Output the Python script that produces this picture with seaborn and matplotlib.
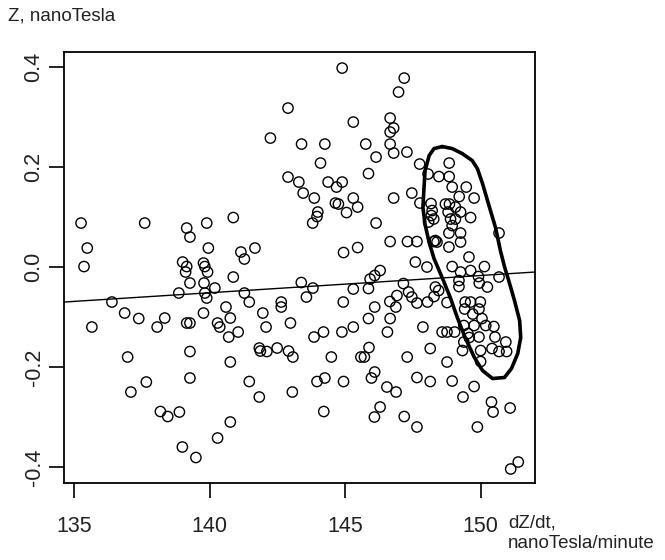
import numpy as np
import pandas as pd
import matplotlib
matplotlib.use("Agg")
import matplotlib.pyplot as plt
import seaborn as sns

# ---- data ----
dzdt = [
    135.25, 137.60, 139.15, 139.27, 139.89, 135.48, 139.95, 135.36, 139.00, 139.15,
    139.11, 139.27, 139.77, 139.82, 139.92, 139.79, 140.19, 138.86, 139.82, 139.89,
    136.39, 136.86, 137.38, 138.06, 138.34, 139.15, 139.27, 139.77, 140.29, 135.65,
    139.27, 136.97, 139.27, 137.66, 137.09, 138.18, 138.45, 138.88, 138.99, 139.49,
    140.29, 140.37, 144.89, 142.89, 145.30, 142.24, 143.39, 144.25, 145.76, 144.09,
    142.89, 143.29, 143.45, 143.86, 144.37, 144.68, 144.89, 145.30, 145.46, 144.64,
    144.75, 145.05, 143.99, 143.96, 143.80, 140.87, 141.15, 141.28, 141.67, 144.94,
    145.46, 140.87, 141.28, 141.46, 143.38, 143.81, 143.57, 145.30, 142.64, 142.64,
    140.60, 140.76, 141.96, 142.08, 142.98, 144.93, 140.70, 141.05, 141.83, 141.87,
    142.11, 142.49, 142.91, 143.07, 143.85, 144.20, 144.88, 145.30, 144.49, 145.58,
    140.76, 141.46, 141.83, 143.05, 143.96, 144.25, 144.94, 144.21, 140.76, 147.18,
    146.97, 146.66, 146.79, 146.66, 146.66, 146.79, 147.28, 146.14, 145.86, 147.75,
    148.06, 148.46, 148.84, 148.84, 147.46, 146.79, 147.76, 148.17, 148.18, 148.08,
    148.95, 149.47, 149.21, 149.76, 148.85, 149.07, 148.80, 149.07, 149.63, 146.14,
    148.83, 149.26, 150.68, 146.66, 147.30, 147.65, 148.27, 148.39, 148.83, 149.26,
    147.59, 148.02, 148.95, 149.57, 150.14, 146.29, 148.70, 148.21, 149.26, 148.27,
    148.89, 148.95, 148.33, 149.26, 149.63, 149.92, 149.95, 149.20, 149.20, 150.25,
    150.68, 148.33, 147.15, 147.34, 147.46, 147.65, 148.04, 148.28, 148.45, 148.76,
    149.43, 149.63, 149.99, 149.41, 149.94, 149.71, 150.05, 149.38, 149.76, 150.19,
    150.49, 147.87, 148.58, 148.76, 149.04, 149.53, 149.58, 149.94, 150.53, 149.38,
    150.93, 150.42, 150.68, 150.96, 150.00, 149.33, 148.14, 147.29, 148.76, 150.00,
    147.65, 148.14, 148.95, 149.76, 149.35, 150.40, 150.46, 151.09, 146.29, 146.08,
    147.18, 147.65, 149.88, 151.11, 151.39, 146.09, 145.92, 145.86, 146.91, 146.65,
    146.87, 146.09, 145.86, 146.66, 146.56, 145.88, 145.71, 146.09, 145.97, 146.54,
    146.88,
]
z = [
    0.088, 0.088, 0.078, 0.060, 0.088, 0.038, 0.038, 0.001, 0.010, 0.001,
    -0.010, -0.032, 0.008, 0.001, -0.010, -0.032, -0.042, -0.052, -0.052, -0.062,
    -0.070, -0.092, -0.103, -0.120, -0.102, -0.112, -0.112, -0.092, -0.112, -0.120,
    -0.169, -0.180, -0.222, -0.230, -0.250, -0.289, -0.299, -0.290, -0.360, -0.381,
    -0.342, -0.120, 0.398, 0.318, 0.290, 0.258, 0.246, 0.246, 0.246, 0.208,
    0.180, 0.170, 0.148, 0.138, 0.170, 0.160, 0.170, 0.138, 0.120, 0.128,
    0.126, 0.109, 0.110, 0.101, 0.088, 0.099, 0.030, 0.016, 0.038, 0.029,
    0.039, -0.020, -0.052, -0.070, -0.031, -0.042, -0.060, -0.044, -0.070, -0.080,
    -0.080, -0.102, -0.092, -0.120, -0.112, -0.070, -0.140, -0.130, -0.162, -0.168,
    -0.169, -0.162, -0.168, -0.180, -0.140, -0.130, -0.130, -0.120, -0.180, -0.180,
    -0.190, -0.229, -0.260, -0.250, -0.229, -0.222, -0.229, -0.289, -0.310, 0.378,
    0.350, 0.298, 0.278, 0.270, 0.246, 0.228, 0.230, 0.220, 0.187, 0.206,
    0.186, 0.181, 0.208, 0.181, 0.148, 0.138, 0.128, 0.127, 0.103, 0.090,
    0.160, 0.160, 0.141, 0.138, 0.126, 0.120, 0.110, 0.096, 0.099, 0.088,
    0.068, 0.068, 0.068, 0.051, 0.051, 0.051, 0.051, 0.050, 0.040, 0.050,
    0.010, 0.000, 0.001, 0.020, 0.001, -0.007, 0.126, 0.113, 0.110, 0.096,
    0.096, 0.083, 0.053, -0.010, -0.007, -0.019, -0.032, -0.027, -0.039, -0.040,
    -0.020, -0.040, -0.033, -0.050, -0.060, -0.072, -0.070, -0.059, -0.047, -0.071,
    -0.070, -0.070, -0.070, -0.084, -0.084, -0.094, -0.103, -0.117, -0.117, -0.117,
    -0.119, -0.120, -0.130, -0.130, -0.130, -0.133, -0.141, -0.140, -0.140, -0.150,
    -0.150, -0.163, -0.169, -0.169, -0.167, -0.167, -0.163, -0.180, -0.190, -0.189,
    -0.221, -0.229, -0.228, -0.239, -0.260, -0.270, -0.290, -0.282, -0.280, -0.300,
    -0.299, -0.320, -0.320, -0.404, -0.390, -0.017, -0.024, -0.043, -0.057, -0.069,
    -0.080, -0.080, -0.103, -0.103, -0.130, -0.161, -0.180, -0.210, -0.222, -0.240,
    -0.250,
]

# closed outline drawn around the dense cluster
outline_x = [148.58, 148.95, 149.32, 149.69, 149.88, 150.07, 150.33, 150.55, 150.73, 150.88,
             151.07, 151.25, 151.44, 151.48, 151.37, 151.14, 150.88, 150.44, 150.07, 149.77,
             149.43, 149.14, 148.88, 148.58, 148.28, 148.10, 147.95, 147.87, 147.91, 147.95,
             148.10, 148.28, 148.58]
outline_y = [0.241, 0.237, 0.227, 0.213, 0.197, 0.167, 0.119, 0.079, 0.033, 0.001,
             -0.033, -0.067, -0.107, -0.141, -0.173, -0.203, -0.221, -0.223, -0.207, -0.181,
             -0.141, -0.101, -0.061, -0.021, 0.017, 0.049, 0.085, 0.119, 0.159, 0.193,
             0.223, 0.237, 0.241]

# straight-line fit  z = intercept + slope * dZ/dt
fit_intercept = -0.535
fit_slope = 0.003454

x_ticks = [135, 140, 145, 150]
y_ticks = [-0.4, -0.2, 0.0, 0.2, 0.4]
y_tick_labels = ["-0.4", "-0.2", "0.0", "0.2", "0.4"]

# ---- drawing ----
sns.set_style("white")
plt.rcParams["font.family"] = ["Liberation Sans Narrow", "Liberation Sans", "DejaVu Sans"]

fig = plt.figure(figsize=(6.65, 5.60), dpi=100)
ax = fig.add_axes([0.0962, 0.1375, 0.8038 - 0.0962, 0.907 - 0.1375])

xlim = (134.62, 151.99)
ylim = (-0.432, 0.430)

df = pd.DataFrame({"dzdt": dzdt, "z": z})
sns.scatterplot(data=df, x="dzdt", y="z", ax=ax, marker="o", s=55,
                facecolors="none", edgecolor="black", linewidth=1.0, legend=False)

fit_df = pd.DataFrame({"x": list(xlim)})
fit_df["y"] = fit_intercept + fit_slope * fit_df["x"]
sns.lineplot(data=fit_df, x="x", y="y", ax=ax, color="black", linewidth=1.0,
             sort=False, legend=False)

out_df = pd.DataFrame({"x": outline_x, "y": outline_y})
sns.lineplot(data=out_df, x="x", y="y", ax=ax, color="black", linewidth=2.6,
             sort=False, estimator=None, legend=False)

ax.set_xlim(*xlim)
ax.set_ylim(*ylim)
ax.set_xticks(x_ticks)
ax.set_xticklabels([str(t) for t in x_ticks])
ax.set_yticks(y_ticks)
ax.set_yticklabels(y_tick_labels, rotation=90, va="center")
ax.tick_params(axis="both", direction="out", length=11, width=1.2, color="black",
               labelsize=15.5, labelcolor="#222222", left=True, bottom=True)
ax.tick_params(axis="x", pad=13)
ax.tick_params(axis="y", pad=3)
ax.set_xlabel("")
ax.set_ylabel("")
for sp in ax.spines.values():
    sp.set_visible(True)
    sp.set_color("black")
    sp.set_linewidth(1.3)

fig.text(8 / 665, 1 - 16 / 560, "Z, nanoTesla", fontsize=13.5, color="#222222",
         ha="left", va="center")
fig.text(508 / 665, 1 - 533 / 560, "dZ/dt,\nnanoTesla/minute", fontsize=13.5,
         color="#222222", ha="left", va="center", linespacing=1.3)

fig.savefig("out.png", dpi=100)
